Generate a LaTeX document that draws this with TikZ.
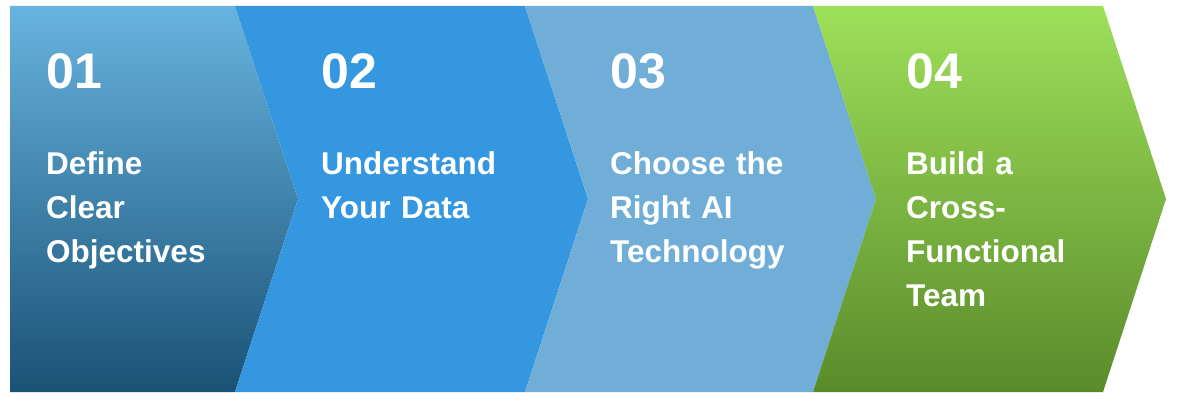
\documentclass[tikz,border=0pt]{standalone}
\usepackage{fontspec}
\setmainfont{Liberation Sans}
\usepackage{tikz}
\definecolor{blueTop}{RGB}{103,179,224}
\definecolor{blueBottom}{RGB}{26,82,117}
\definecolor{myblue}{RGB}{52,151,224}
\definecolor{lightblue}{RGB}{112,174,215}
\definecolor{greenTop}{RGB}{158,224,90}
\definecolor{greenBottom}{RGB}{90,139,43}

\begin{document}
\begin{tikzpicture}[x=1pt,y=1pt]
	\useasboundingbox[fill=white] (0,0) rectangle (1180,402);

	% the four chevrons
	\shade[top color=blueTop,bottom color=blueBottom]
		(10,396) -- (235,396) -- (298,203) -- (235,10) -- (10,10) -- cycle;
	\fill[myblue]
		(235,396) -- (525,396) -- (588,203) -- (525,10) -- (235,10) -- (298,203) -- cycle;
	\fill[lightblue]
		(525,396) -- (813,396) -- (876,203) -- (813,10) -- (525,10) -- (588,203) -- cycle;
	\shade[top color=greenTop,bottom color=greenBottom]
		(813,396) -- (1103,396) -- (1166,203) -- (1103,10) -- (813,10) -- (876,203) -- cycle;

	\begin{scope}[every node/.style={text=white,anchor=base west,inner sep=0pt},
	              stepnum/.style={font=\bfseries\fontsize{50}{50}\selectfont},
	              steptext/.style={text width=230pt,align=left,font=\bfseries\fontsize{31.5}{44}\selectfont}]
	    \node[stepnum] (N1) at (46,313) {01};
	    \node[stepnum] (N2) at (321,313) {02};
	    \node[stepnum] (N3) at (610,313) {03};
	    \node[stepnum] (N4) at (906,313) {04};
	    \node[steptext] (T1) at (46,227) {Define\\Clear\\Objectives};
	    \node[steptext] (T2) at (321,227) {Understand\\Your Data};
	    \node[steptext] (T3) at (610,227) {Choose the\\Right AI\\Technology};
	    \node[steptext] (T4) at (906,227) {Build a\\Cross-\\Functional\\Team};
	\end{scope}
\end{tikzpicture}
\end{document}
